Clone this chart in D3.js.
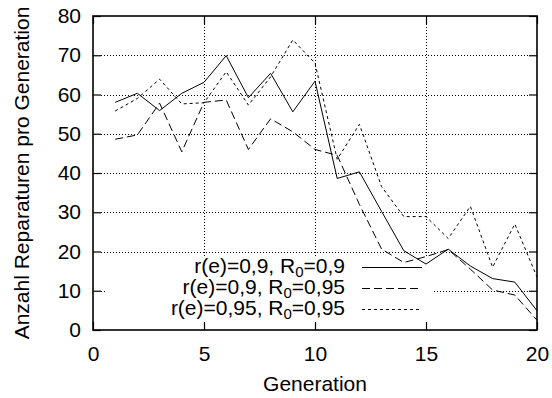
<!DOCTYPE html>
<html>
<head>
<meta charset="utf-8">
<script src="https://cdn.jsdelivr.net/npm/d3@7"></script>
<style>
  html, body { margin: 0; padding: 0; background: #fff; }
  svg { display: block; font-family: "Liberation Sans", Arial, sans-serif; }
</style>
</head>
<body>
<div id="chart"></div>
<script>
// Generations and repair counts per generation for three parameter sets
const generations = [1,2,3,4,5,6,7,8,9,10,11,12,13,14,15,16,17,18,19,20];
const repairsA = [58.0,60.3,55.9,60.3,63.1,69.9,59.2,65.4,55.6,63.4,38.6,40.3,30.2,20.2,16.8,20.6,16.3,13.1,12.2,4.9];   // r(e)=0,9, R0=0,9
const repairsB = [48.6,49.7,57.8,45.4,58.0,58.6,46.0,53.8,50.5,46.0,44.5,32.0,20.6,17.2,18.7,20.5,15.5,10.2,8.9,2.5];   // r(e)=0,9, R0=0,95
const repairsC = [55.8,59.0,63.9,57.6,57.9,65.8,57.3,64.5,73.9,68.0,43.5,52.4,36.5,28.9,28.9,23.3,31.5,16.0,27.0,13.5]; // r(e)=0,95, R0=0,95
const xTicks = [0,5,10,15,20];
const yTicks = [0,10,20,30,40,50,60,70,80];
const legendParts = [
  ["r(e)=0,9, R", "0", "=0,9"],
  ["r(e)=0,9, R", "0", "=0,95"],
  ["r(e)=0,95, R", "0", "=0,95"]
];
const xLabel = "Generation";
const yLabel = "Anzahl Reparaturen pro Generation";

const W = 552, H = 398;
const m = {left: 93, right: 537, top: 16, bottom: 330};
const FS = 21;

const svg = d3.select("#chart").append("svg").attr("width", W).attr("height", H);

const x = d3.scaleLinear().domain([0, 20]).range([m.left, m.right]);
const y = d3.scaleLinear().domain([0, 80]).range([m.bottom, m.top]);

// dotted grid
const grid = svg.append("g").attr("stroke", "#000").attr("stroke-width", 1)
  .attr("stroke-dasharray", "1,2").attr("shape-rendering", "crispEdges");
xTicks.filter(t => t > 0 && t < 20).forEach(t => {
  grid.append("line").attr("x1", Math.round(x(t)) + 0.5).attr("x2", Math.round(x(t)) + 0.5)
    .attr("y1", m.top + 8).attr("y2", m.bottom - 8);
});
yTicks.filter(t => t > 0 && t < 80).forEach(t => {
  grid.append("line").attr("y1", Math.round(y(t)) + 0.5).attr("y2", Math.round(y(t)) + 0.5)
    .attr("x1", m.left + 8).attr("x2", m.right - 8);
});

// key background
svg.append("rect").attr("x", 105).attr("y", 256).attr("width", 327).attr("height", 72).attr("fill", "#fff");

// data lines
const line = d3.line().x((d, i) => x(generations[i])).y(d => y(d));
const series = [
  {values: repairsA, dash: null},
  {values: repairsB, dash: "8,4"},
  {values: repairsC, dash: "3,3"}
];
series.forEach(s => {
  svg.append("path").datum(s.values).attr("d", line)
    .attr("fill", "none").attr("stroke", "#000").attr("stroke-width", 1)
    .attr("stroke-dasharray", s.dash);
});

// axes with inward ticks on all four sides
const axB = d3.axisBottom(x).tickValues(xTicks).tickSize(-8).tickPadding(16).tickFormat(d3.format("d"));
const axT = d3.axisTop(x).tickValues(xTicks).tickSize(-8).tickFormat("");
const axL = d3.axisLeft(y).tickValues(yTicks).tickSize(-8).tickPadding(12).tickFormat(d3.format("d"));
const axR = d3.axisRight(y).tickValues(yTicks).tickSize(-8).tickFormat("");
function styleAxis(g) {
  g.select(".domain").remove();
  g.selectAll(".tick line").attr("stroke", "#000").attr("stroke-width", 1.2);
  g.selectAll("text").attr("fill", "#000").attr("font-size", FS).attr("font-family", "Liberation Sans, Arial, sans-serif");
}
svg.append("g").attr("transform", `translate(0,${m.bottom})`).call(axB).call(styleAxis);
svg.append("g").attr("transform", `translate(0,${m.top})`).call(axT).call(styleAxis);
svg.append("g").attr("transform", `translate(${m.left},0)`).call(axL).call(styleAxis);
svg.append("g").attr("transform", `translate(${m.right},0)`).call(axR).call(styleAxis);

// frame
svg.append("rect").attr("x", m.left).attr("y", m.top)
  .attr("width", m.right - m.left).attr("height", m.bottom - m.top)
  .attr("fill", "none").attr("stroke", "#000").attr("stroke-width", 1.6);

// axis titles
svg.append("text").attr("x", (m.left + m.right) / 2).attr("y", 391)
  .attr("text-anchor", "middle").attr("font-size", FS).text(xLabel);
svg.append("text").attr("transform", `translate(29,${(m.top + m.bottom) / 2}) rotate(-90)`)
  .attr("text-anchor", "middle").attr("font-size", FS).text(yLabel);

// key
const keyBase = [272.5, 293.5, 314.5];
legendParts.forEach((p, i) => {
  const t = svg.append("text").attr("x", 345).attr("y", keyBase[i])
    .attr("text-anchor", "end").attr("font-size", FS);
  t.append("tspan").text(p[0]);
  t.append("tspan").attr("font-size", 15).attr("dy", 4.5).text(p[1]);
  t.append("tspan").attr("dy", -4.5).text(p[2]);
  svg.append("line").attr("x1", 362).attr("x2", 422)
    .attr("y1", keyBase[i] - 5).attr("y2", keyBase[i] - 5)
    .attr("stroke", "#000").attr("stroke-width", 1)
    .attr("stroke-dasharray", series[i].dash);
});
</script>
</body>
</html>
